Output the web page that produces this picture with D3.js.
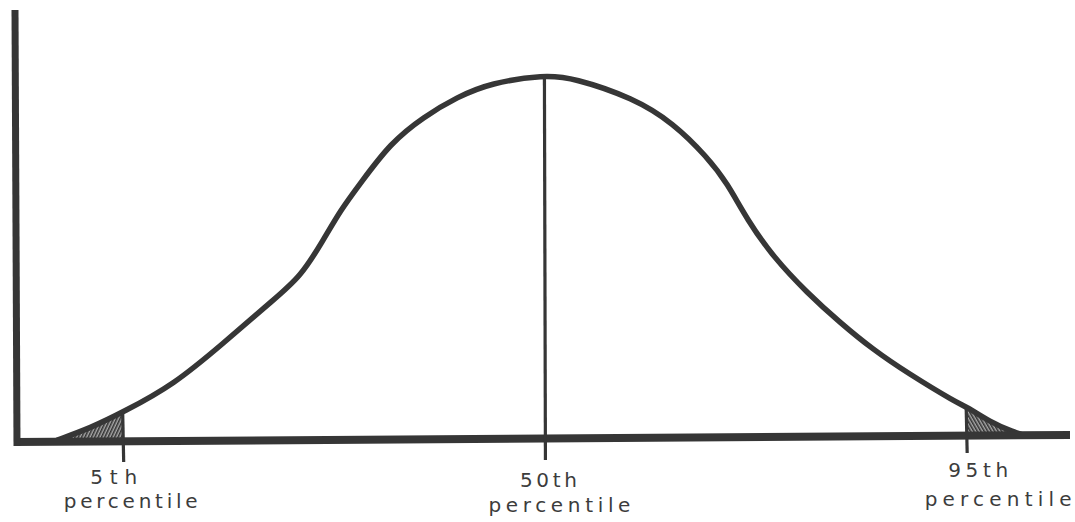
<!DOCTYPE html>
<html>
<head>
<meta charset="utf-8">
<script src="https://cdn.jsdelivr.net/npm/d3@7"></script>
<style>
  html, body { margin: 0; padding: 0; background: #fff; }
  svg { display: block; }
</style>
</head>
<body>
<svg id="chart" width="1075" height="522"></svg>
<script>
// ---- data (x in standard-deviation units, y as relative density) ----
const curveZ = [-1.900, -1.770, -1.645, -1.446, -1.251, -1.057, -0.951, -0.862, -0.795, -0.717,
                -0.600, -0.472, -0.339, -0.211, 0.000, 0.113, 0.347, 0.503, 0.635, 0.713,
                0.791, 0.893, 1.025, 1.154, 1.283, 1.415, 1.610, 1.645, 1.739, 1.828, 1.875];
const curveDensity = [0.000, 0.033, 0.076, 0.151, 0.266, 0.384, 0.447, 0.548, 0.630, 0.704,
                      0.814, 0.885, 0.940, 0.978, 1.000, 0.992, 0.937, 0.868, 0.775, 0.704,
                      0.603, 0.501, 0.403, 0.321, 0.247, 0.184, 0.101, 0.092, 0.049, 0.022, 0.012];
const percentileLabels = ["5th", "50th", "95th"];
const percentileZ = [-1.645, 0, 1.645];
const secondLine = "percentile";

// ---- layout ----
const svg = d3.select("#chart");
const ink = "#363636";

const x = d3.scaleLinear().domain([-2.065, 2.05]).range([15, 1070]);
const y = d3.scaleLinear().domain([0, 1.178]).range([440, 10]);

const pts = curveZ.map((z, i) => ({ z, d: curveDensity[i] }));

// slightly tilted hand-drawn baseline
const baseY = px => y(0) + 2 - 7 * (px - x.range()[0]) / (x.range()[1] - x.range()[0]);

// hatch patterns
const defs = svg.append("defs");
function hatch(id, angle) {
  const p = defs.append("pattern").attr("id", id).attr("patternUnits", "userSpaceOnUse")
    .attr("width", 3).attr("height", 3).attr("patternTransform", `rotate(${angle})`);
  p.append("rect").attr("width", 3).attr("height", 3).attr("fill", "#a8a8a8");
  p.append("line").attr("x1", 0.8).attr("y1", 0).attr("x2", 0.8).attr("y2", 3)
    .attr("stroke", "#2c2c2c").attr("stroke-width", 1.5);
}
hatch("hatchL", 25);
hatch("hatchR", -30);

defs.append("clipPath").attr("id", "clipL").append("rect")
  .attr("x", 0).attr("y", 0).attr("width", x(percentileZ[0])).attr("height", 522);
defs.append("clipPath").attr("id", "clipR").append("rect")
  .attr("x", x(percentileZ[2])).attr("y", 0).attr("width", 1075 - x(percentileZ[2])).attr("height", 522);

const smooth = d3.curveBasis;
const lineGen = d3.line().x(p => x(p.z)).y(p => y(p.d)).curve(smooth);
const areaGen = d3.area().x(p => x(p.z)).y0(p => baseY(x(p.z)) - 2).y1(p => y(p.d)).curve(smooth);

// shaded tails
svg.append("path").datum(pts).attr("d", areaGen)
  .attr("fill", "url(#hatchL)").attr("clip-path", "url(#clipL)");
svg.append("path").datum(pts).attr("d", areaGen)
  .attr("fill", "url(#hatchR)").attr("clip-path", "url(#clipR)");

// bell curve
const curvePath = svg.append("path").datum(pts)
  .attr("d", lineGen)
  .attr("fill", "none").attr("stroke", ink).attr("stroke-width", 5.5)
  .attr("stroke-linecap", "round").attr("stroke-linejoin", "round");

// find curve height at a given pixel x from the drawn path
const node = curvePath.node();
const total = node.getTotalLength();
function curveYAt(px) {
  let best = null, bd = Infinity;
  for (let s = 0; s <= total; s += 0.5) {
    const p = node.getPointAtLength(s);
    const d = Math.abs(p.x - px);
    if (d < bd) { bd = d; best = p; }
  }
  return best.y;
}

// axes
svg.append("line")
  .attr("x1", x.range()[0] - 1).attr("y1", baseY(x.range()[0]))
  .attr("x2", x.range()[1]).attr("y2", baseY(x.range()[1]))
  .attr("stroke", ink).attr("stroke-width", 8);
svg.append("line")
  .attr("x1", x.range()[0]).attr("y1", y.range()[1])
  .attr("x2", x.range()[0] + 2).attr("y2", y(0) + 6)
  .attr("stroke", ink).attr("stroke-width", 7);

// percentile markers
const labelLayout = [
  { dx1: -9, dx2: 8,  y1: 484, y2: 508, len1: 47, len2: 134, bottom: 462 },
  { dx1: 4,  dx2: 15, y1: 487, y2: 512, len1: 57, len2: 142, bottom: 460 },
  { dx1: 12, dx2: 32, y1: 477, y2: 506, len1: 60, len2: 147, bottom: 453 }
];
const font = "'DejaVu Sans', sans-serif";
percentileZ.forEach((z, i) => {
  const L = labelLayout[i];
  const px = x(z);
  svg.append("line")
    .attr("x1", px).attr("y1", curveYAt(px))
    .attr("x2", px + 1).attr("y2", L.bottom)
    .attr("stroke", ink).attr("stroke-width", 3.2);
  svg.append("text")
    .attr("x", px + L.dx1).attr("y", L.y1)
    .attr("text-anchor", "middle")
    .attr("textLength", L.len1).attr("lengthAdjust", "spacing")
    .attr("font-family", font)
    .attr("font-size", 20).attr("fill", "#3c3c3c")
    .text(percentileLabels[i]);
  svg.append("text")
    .attr("x", px + L.dx2).attr("y", L.y2)
    .attr("text-anchor", "middle")
    .attr("textLength", L.len2).attr("lengthAdjust", "spacing")
    .attr("font-family", font)
    .attr("font-size", 20).attr("fill", "#3c3c3c")
    .text(secondLine);
});
</script>
</body>
</html>
